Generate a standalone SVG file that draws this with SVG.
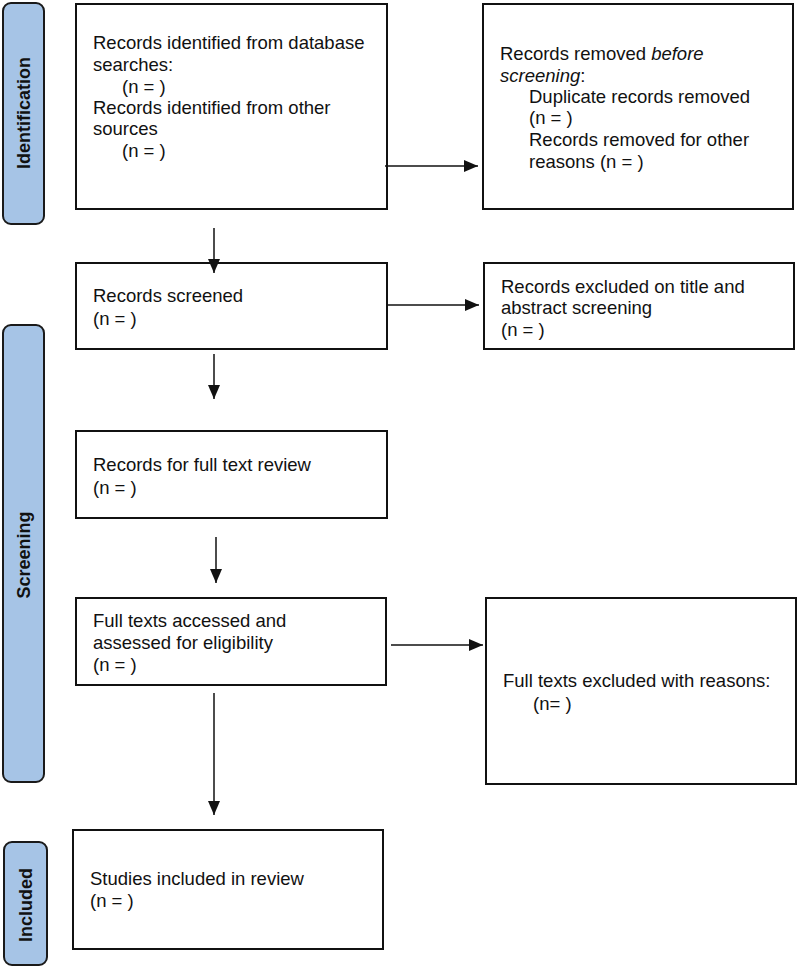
<svg xmlns="http://www.w3.org/2000/svg" width="797" height="969" viewBox="0 0 797 969">
<style>
.box{fill:#fff;stroke:#111;stroke-width:2}
.side{fill:#a6c4e6;stroke:#1a1a1a;stroke-width:2}
.t{font-family:"Liberation Sans",Arial,sans-serif;font-size:18.5px;fill:#111}
.lab{font-family:"Liberation Sans",Arial,sans-serif;font-size:18px;font-weight:bold;fill:#111}
.c{stroke:#111;stroke-width:1.5;fill:none}
</style>
<defs>
<marker id="ah" markerUnits="userSpaceOnUse" markerWidth="14" markerHeight="12" refX="14" refY="6" orient="auto">
<path d="M0,0 L14,6 L0,12 z" fill="#111"/>
</marker>
</defs>
<rect width="797" height="969" fill="#fff"/>
<g id="side-identification">
<rect class="side" x="3" y="3" width="41" height="221" rx="8"/>
<text class="lab" transform="translate(30,113) rotate(-90)" text-anchor="middle">Identification</text>
</g>
<g id="side-screening">
<rect class="side" x="3" y="325" width="41" height="457" rx="8"/>
<text class="lab" transform="translate(30,555) rotate(-90)" text-anchor="middle">Screening</text>
</g>
<g id="side-included">
<rect class="side" x="4" y="842" width="43" height="123" rx="8"/>
<text class="lab" transform="translate(32,905) rotate(-90)" text-anchor="middle">Included</text>
</g>
<g id="n-identified">
<rect class="box" x="76" y="4" width="311" height="205"/>
<text class="t" x="93" y="49">Records identified from database</text>
<text class="t" x="93" y="71">searches:</text>
<text class="t" x="122" y="93">(n = )</text>
<text class="t" x="93" y="114">Records identified from other</text>
<text class="t" x="93" y="135">sources</text>
<text class="t" x="122" y="157">(n = )</text>
</g>
<g id="n-removed">
<rect class="box" x="483" y="4" width="310" height="205"/>
<text class="t" x="500" y="60">Records removed <tspan font-style="italic">before</tspan></text>
<text class="t" x="500" y="82"><tspan font-style="italic">screening</tspan>:</text>
<text class="t" x="529" y="103">Duplicate records removed</text>
<text class="t" x="529" y="124">(n = )</text>
<text class="t" x="529" y="146">Records removed for other</text>
<text class="t" x="529" y="168">reasons (n = )</text>
</g>
<g id="n-screened">
<rect class="box" x="76" y="263" width="311" height="86"/>
<text class="t" x="93" y="302">Records screened</text>
<text class="t" x="93" y="325">(n = )</text>
</g>
<g id="n-excluded-title">
<rect class="box" x="484" y="263" width="310" height="86"/>
<text class="t" x="501" y="293">Records excluded on title and</text>
<text class="t" x="501" y="314">abstract screening</text>
<text class="t" x="501" y="336">(n = )</text>
</g>
<g id="n-fulltext-review">
<rect class="box" x="76" y="431" width="311" height="87"/>
<text class="t" x="93" y="471">Records for full text review</text>
<text class="t" x="93" y="494">(n = )</text>
</g>
<g id="n-fulltext-assessed">
<rect class="box" x="76" y="598" width="310" height="87"/>
<text class="t" x="93" y="627">Full texts accessed and</text>
<text class="t" x="93" y="649">assessed for eligibility</text>
<text class="t" x="93" y="671">(n = )</text>
</g>
<g id="n-fulltext-excluded">
<rect class="box" x="486" y="598" width="310" height="186"/>
<text class="t" x="503" y="687">Full texts excluded with reasons:</text>
<text class="t" x="533" y="710">(n= )</text>
</g>
<g id="n-included">
<rect class="box" x="73" y="830" width="310" height="119"/>
<text class="t" x="90" y="885">Studies included in review</text>
<text class="t" x="90" y="907">(n = )</text>
</g>
<g id="connectors">
<line class="c" x1="385" y1="166" x2="478" y2="166" marker-end="url(#ah)"/>
<line class="c" x1="214" y1="228" x2="214" y2="273" marker-end="url(#ah)"/>
<line class="c" x1="386" y1="305" x2="479" y2="305" marker-end="url(#ah)"/>
<line class="c" x1="214" y1="354" x2="214" y2="399" marker-end="url(#ah)"/>
<line class="c" x1="216" y1="537" x2="216" y2="583" marker-end="url(#ah)"/>
<line class="c" x1="391" y1="645" x2="483" y2="645" marker-end="url(#ah)"/>
<line class="c" x1="214" y1="693" x2="214" y2="815" marker-end="url(#ah)"/>
</g>
</svg>
